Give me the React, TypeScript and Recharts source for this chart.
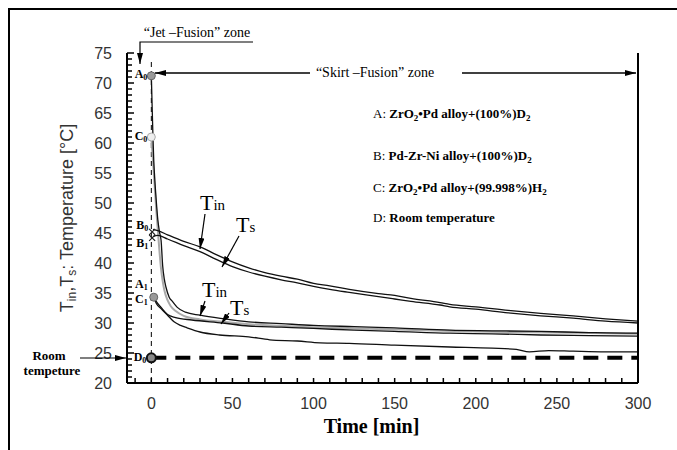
import React from 'react';
import { LineChart, Line, XAxis, YAxis, ReferenceDot, ReferenceLine } from 'recharts';

const SERIF = '"Liberation Serif", "Times New Roman", serif';
const SANS = '"Liberation Sans", Arial, sans-serif';

// A: ZrO2-Pd + D2
const aTinTime = [0, 0.5, 1, 1.5, 2, 3, 4, 5, 6, 7, 8, 9, 11, 13, 16, 21, 30, 45, 60, 80, 100, 125, 150, 184, 210, 240, 270, 297, 300];
const aTinTemp = [71.2, 66, 61, 57, 54.5, 50.5, 47.2, 45.2, 43.8, 39.5, 37.3, 36, 34.3, 33.6, 32.6, 31.8, 31.3, 30.7, 30.2, 29.9, 29.6, 29.4, 29.2, 28.8, 28.7, 28.6, 28.4, 28.3, 28.3];
const aTsTime = [1.5, 3, 6, 10, 15, 25, 44, 60, 80, 100, 125, 150, 184, 210, 240, 270, 300];
const aTsTemp = [34.3, 33.6, 32.6, 31.4, 30.9, 30.5, 30.0, 29.5, 29.3, 29.1, 28.8, 28.6, 28.3, 28.2, 28.0, 27.9, 27.8];

// B: Pd-Zr-Ni + D2
const bTime = [1, 4, 10, 20, 30, 40, 50, 60, 70, 80, 90, 100, 110, 122, 140, 150, 160, 178, 184, 200, 220, 240, 260, 280, 300];
const bTinTemp = [45.6, 45.4, 44.7, 43.6, 42.7, 41.4, 40.2, 39.2, 38.4, 37.8, 37.3, 36.6, 36.2, 35.6, 34.9, 34.6, 34.1, 33.4, 33.1, 32.7, 32.1, 31.6, 31.2, 30.7, 30.3];
const bTsTemp = [44.4, 44.6, 44.0, 42.9, 41.9, 40.6, 39.4, 38.5, 37.8, 37.2, 36.7, 36.1, 35.6, 35.1, 34.4, 34.0, 33.6, 33.0, 32.7, 32.3, 31.7, 31.2, 30.8, 30.3, 30.0];

// C: ZrO2-Pd + H2
const cTinTime = [0, 1, 2, 3, 4, 5, 6, 7, 8, 10, 12, 15, 20, 30, 44, 60, 100, 150, 200, 250, 300];
const cTinTemp = [61, 57, 53, 49, 45.5, 42, 39, 37, 35.5, 33.8, 32.8, 32, 31.2, 30.6, 30.2, 29.8, 29.3, 28.9, 28.6, 28.4, 28.2];
const cTsTime = [1.5, 3, 6, 10, 14, 18, 22, 30, 42, 60, 73, 90, 104, 122, 150, 184, 210, 225, 233, 245, 260, 280, 300];
const cTsTemp = [34.3, 33.3, 32.4, 31.3, 30.2, 29.6, 29.2, 28.5, 28.0, 27.7, 27.2, 27.0, 26.7, 26.6, 26.3, 26.0, 25.8, 25.6, 25.2, 25.4, 25.3, 25.2, 25.2];

// D: room temperature
const roomTime = [0, 300];
const roomTemp = [24.2, 24.2];

// start points
const pointNames = ['A0', 'C0', 'B0', 'B1', 'A1', 'C1', 'D0'];
const pointTime = [0, 0, 0.5, 0.5, 1.5, 1.5, 0];
const pointTemp = [71.2, 61, 45.2, 44.2, 34.3, 34.3, 24.2];

const xMajor = [0, 50, 100, 150, 200, 250, 300];
const leftMajor = [20, 25, 30, 35, 40, 45, 50, 55, 60, 65, 70, 75];
const rightMajor = [0, 10, 20, 30, 40, 50, 60];

const xTicks = Array.from({ length: 32 }, (_, i) => -10 + i * 10);
const leftTicks = Array.from({ length: 56 }, (_, i) => 20 + i);
const rightTicks = Array.from({ length: 31 }, (_, i) => i * 2);

const zip = (xs: number[], ys: number[]) => xs.map((x, i) => ({ x, y: ys[i] }));

const markerStyle: Record<string, { kind: string; dx: number; dy: number }> = {
  A0: { kind: 'gray', dx: -4, dy: -1 },
  C0: { kind: 'open', dx: -4, dy: 0 },
  B0: { kind: 'x', dx: -4, dy: -6 },
  B1: { kind: 'x', dx: -4, dy: 6 },
  A1: { kind: 'gray', dx: -6, dy: -12 },
  C1: { kind: 'none', dx: -6, dy: 3 },
  D0: { kind: 'ring', dx: -5, dy: 0 },
};

const makeMarker = (name: string) => (props: any) => {
  const { cx, cy } = props;
  const s = markerStyle[name];
  return (
    <g>
      {s.kind === 'gray' && <circle cx={cx} cy={cy} r={4} fill="#9a9a9a" stroke="#666" strokeWidth={1} />}
      {s.kind === 'open' && <circle cx={cx} cy={cy} r={4} fill="#eee" stroke="#aaa" strokeWidth={1} />}
      {s.kind === 'x' && (
        <path d={`M${cx - 3},${cy - 3}L${cx + 3},${cy + 3}M${cx - 3},${cy + 3}L${cx + 3},${cy - 3}`} stroke="#222" strokeWidth={1.2} />
      )}
      {s.kind === 'ring' && <circle cx={cx} cy={cy} r={4.5} fill="#888" stroke="#111" strokeWidth={2} />}
      <text x={cx + s.dx} y={cy + s.dy + 3} textAnchor="end" fontFamily={SERIF} fontWeight="bold" fontSize={12} fill="#000">
        {name[0]}
        <tspan fontSize={8} dy={2}>{name[1]}</tspan>
      </text>
    </g>
  );
};

const LeftTick = (props: any) => {
  const { x, y, payload } = props;
  const major = leftMajor.includes(payload.value);
  return (
    <g>
      <line x1={x} x2={x + (major ? 7 : 5)} y1={y} y2={y} stroke="#000" strokeWidth={1.5} />
      {major && (
        <text x={x - 15} y={y + 6} textAnchor="end" fontFamily={SANS} fontSize={16} fill="#333">
          {payload.value}
        </text>
      )}
    </g>
  );
};

const RightTick = (props: any) => {
  const { x, y, payload } = props;
  const major = rightMajor.includes(payload.value);
  return (
    <g>
      <line x1={x} x2={x - (major ? 7 : 5)} y1={y} y2={y} stroke="#000" strokeWidth={1.5} />
      {major && (
        <text x={x + 14} y={y + 6} textAnchor="start" fontFamily={SANS} fontSize={16} fill="#333">
          {payload.value}
        </text>
      )}
    </g>
  );
};

const BottomTick = (props: any) => {
  const { x, y, payload } = props;
  const major = xMajor.includes(payload.value);
  return (
    <g>
      <line x1={x} x2={x} y1={y} y2={y - 5} stroke="#000" strokeWidth={1.5} />
      {major && (
        <text x={x} y={y + 26} textAnchor="middle" fontFamily={SANS} fontSize={16} fill="#333">
          {payload.value}
        </text>
      )}
    </g>
  );
};

const YLabel = (props: any) => {
  const vb = props.viewBox;
  const cx = vb.x + 6;
  const cy = vb.y + vb.height / 2;
  return (
    <text transform={`translate(${cx},${cy}) rotate(-90)`} textAnchor="middle" fontFamily={SANS} fontSize={18} fill="#333">
      T<tspan fontSize={12} dy={3}>in</tspan>
      <tspan dy={-3}>,T</tspan>
      <tspan fontSize={12} dy={3}>s</tspan>
      <tspan dy={-3}>: Temperature [°C]</tspan>
    </text>
  );
};

const XLabel = (props: any) => {
  const vb = props.viewBox;
  return (
    <text x={vb.x + vb.width / 2 - 11} y={vb.y + 50} textAnchor="middle" fontFamily={SERIF} fontWeight="bold" fontSize={20} fill="#000">
      Time [min]
    </text>
  );
};

const Sub = ({ children }: { children: React.ReactNode }) => (
  <tspan fontSize={9} dy={3}>{children}</tspan>
);

function Annotations() {
  const arrow = 'url(#ah)';
  return (
    <svg width={677} height={450} style={{ position: 'absolute', left: 0, top: 0, pointerEvents: 'none' }}>
      <defs>
        <marker id="ah" markerWidth={11} markerHeight={6} refX={11} refY={3} orient="auto" markerUnits="userSpaceOnUse">
          <path d="M0,0 L11,3 L0,6 z" fill="#000" />
        </marker>
      </defs>
      {/* frame */}
      <line x1={8} y1={9} x2={677} y2={9} stroke="#000" strokeWidth={2} />
      <line x1={9} y1={8} x2={9} y2={450} stroke="#000" strokeWidth={2} />

      {/* zones */}
      <text x={197} y={37} textAnchor="middle" fontFamily={SERIF} fontSize={14} fill="#000">“Jet –Fusion” zone</text>
      <polyline points="253,42 140,42 140,64" fill="none" stroke="#000" strokeWidth={1.2} markerEnd={arrow} />
      <text x={375} y={77} textAnchor="middle" fontFamily={SERIF} fontSize={14} fill="#000">“Skirt –Fusion” zone</text>
      <line x1={310} y1={73} x2={155} y2={73} stroke="#000" strokeWidth={1.5} markerEnd={arrow} />
      <line x1={462} y1={73} x2={636} y2={73} stroke="#000" strokeWidth={1.5} markerEnd={arrow} />

      {/* legend */}
      <g fontFamily={SERIF} fontSize={13} fill="#000">
        <text x={373} y={118}>A: <tspan fontWeight="bold">ZrO<Sub>2</Sub><tspan dy={-3}>•Pd alloy+(100%)D</tspan><Sub>2</Sub></tspan></text>
        <text x={373} y={160}>B: <tspan fontWeight="bold">Pd-Zr-Ni alloy+(100%)D<Sub>2</Sub></tspan></text>
        <text x={373} y={192}>C: <tspan fontWeight="bold">ZrO<Sub>2</Sub><tspan dy={-3}>•Pd alloy+(99.998%)H</tspan><Sub>2</Sub></tspan></text>
        <text x={373} y={222}>D: <tspan fontWeight="bold">Room temperature</tspan></text>
      </g>

      {/* room temperature note */}
      <g fontFamily={SERIF} fontSize={13} fontWeight="bold" fill="#000" textAnchor="middle">
        <text x={49} y={360}>Room</text>
        <text x={52} y={375}>tempeture</text>
      </g>
      <line x1={80} y1={358} x2={126} y2={358} stroke="#000" strokeWidth={1.2} markerEnd={arrow} />

      {/* Tin / Ts call-outs */}
      <g fontFamily={SERIF} fill="#000">
        <text x={200} y={210} fontSize={22}>T<tspan fontSize={15}>in</tspan></text>
        <text x={236} y={232} fontSize={22}>T<tspan fontSize={15}>s</tspan></text>
        <text x={202} y={297} fontSize={22}>T<tspan fontSize={15}>in</tspan></text>
        <text x={230} y={315} fontSize={22}>T<tspan fontSize={15}>s</tspan></text>
      </g>
      <line x1={205} y1={214} x2={200} y2={249} stroke="#000" strokeWidth={1.2} markerEnd={arrow} />
      <line x1={239} y1={236} x2={222} y2={267} stroke="#000" strokeWidth={1.2} markerEnd={arrow} />
      <line x1={205} y1={301} x2={200} y2={316} stroke="#000" strokeWidth={1.2} markerEnd={arrow} />
      <line x1={229} y1={313} x2={221} y2={324} stroke="#000" strokeWidth={1.2} markerEnd={arrow} />
    </svg>
  );
}

export default function App() {
  const lineProps = { dot: false, isAnimationActive: false, type: 'monotone' as const, yAxisId: 'L', dataKey: 'y' };
  return (
    <div style={{ position: 'absolute', left: 0, top: 0, width: 677, height: 450, background: '#fff' }}>
      <LineChart width={677} height={450} margin={{ top: 53, right: 4, bottom: 37, left: 67 }}>
        <XAxis
          type="number"
          dataKey="x"
          domain={[-15, 300]}
          ticks={xTicks}
          interval={0}
          allowDataOverflow
          height={30}
          tickSize={0}
          tickMargin={0}
          tickLine={false}
          tick={<BottomTick />}
          axisLine={{ stroke: '#000', strokeWidth: 2 }}
          label={{ content: <XLabel /> }}
        />
        <YAxis
          yAxisId="L"
          domain={[20, 75]}
          ticks={leftTicks}
          interval={0}
          allowDataOverflow
          width={60}
          tickSize={0}
          tickMargin={0}
          tickLine={false}
          tick={<LeftTick />}
          axisLine={{ stroke: '#000', strokeWidth: 2 }}
          label={{ content: <YLabel /> }}
        />
        <YAxis
          yAxisId="R"
          orientation="right"
          domain={[0, 60]}
          ticks={rightTicks}
          interval={0}
          width={35}
          tickSize={0}
          tickMargin={0}
          tickLine={false}
          tick={<RightTick />}
          axisLine={{ stroke: '#000', strokeWidth: 2 }}
        />
        <ReferenceLine
          yAxisId="L"
          segment={[{ x: 0, y: 73.5 }, { x: 0, y: 20 }]}
          stroke="#000"
          strokeWidth={1}
          strokeDasharray="5 4"
        />
        <Line {...lineProps} data={zip(roomTime, roomTemp)} stroke="#000" strokeWidth={4} strokeDasharray="15 9" type="linear" />
        <Line {...lineProps} data={zip(cTinTime, cTinTemp)} stroke="#aaa" strokeWidth={2} />
        <Line {...lineProps} data={zip(aTinTime, aTinTemp)} stroke="#111" strokeWidth={1.3} />
        <Line {...lineProps} data={zip(aTsTime, aTsTemp)} stroke="#111" strokeWidth={1.3} />
        <Line {...lineProps} data={zip(cTsTime, cTsTemp)} stroke="#111" strokeWidth={1.3} />
        <Line {...lineProps} data={zip(bTime, bTinTemp)} stroke="#111" strokeWidth={1.3} />
        <Line {...lineProps} data={zip(bTime, bTsTemp)} stroke="#111" strokeWidth={1.3} />
        {pointNames.map((name, i) => (
          <ReferenceDot
            key={name}
            yAxisId="L"
            x={pointTime[i]}
            y={pointTemp[i]}
            r={4}
            shape={makeMarker(name)}
          />
        ))}
      </LineChart>
      <Annotations />
    </div>
  );
}
